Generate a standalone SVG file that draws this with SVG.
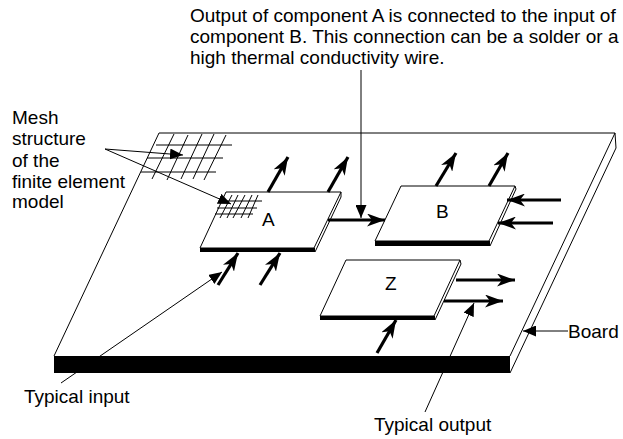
<svg xmlns="http://www.w3.org/2000/svg" width="623" height="439" viewBox="0 0 623 439">
<defs>
<marker id="bar" viewBox="0 0 18 13" refX="18" refY="6.5" markerWidth="18" markerHeight="13" markerUnits="userSpaceOnUse" orient="auto"><path d="M0 0L18 6.5L0 13L5 6.5Z" fill="#000"/></marker>
<marker id="thin" viewBox="0 0 13 11" refX="13" refY="5.5" markerWidth="13" markerHeight="11" markerUnits="userSpaceOnUse" orient="auto"><path d="M0 0L13 5.5L0 11Z" fill="#000"/></marker>
</defs>
<style>
text{font-family:"Liberation Sans",Arial,sans-serif;font-size:19px;fill:#000}
.l{fill:none;stroke:#000;stroke-width:1}
.t{fill:none;stroke:#000;stroke-width:3.2;marker-end:url(#bar)}
.a{fill:none;stroke:#000;stroke-width:1;marker-end:url(#thin)}
.m{fill:none;stroke:#000;stroke-width:1}
.c{fill:#fff;stroke:#000;stroke-width:1}
</style>
<rect width="623" height="439" fill="#fff"/>
<g id="board">
<path class="l" d="M54 356L159 133H615L510 356M510 373L616 148L615 133"/>
<rect x="54" y="356" width="456" height="17" fill="#000"/>
</g>
<g id="mesh-board">
<path class="m" d="M156 145H232M147 158H223M141 172H216M174 134L152 179M188 135L167 180M202 134L181 179M214 134L193 179M226 135L204 180"/>
</g>
<g id="component-a">
<path class="c" d="M226 192H341L314 248H200Z"/>
<path class="l" d="M341 192V197L315 252"/>
<rect x="200" y="248" width="115" height="4" fill="#000"/>
<path class="m" d="M220 201H262M217 208H257M215 214H253M232 195L220 218M238 195L227 218M245 195L233 218M252 195L241 218M258 195L248 218"/>
<text x="262" y="226">A</text>
</g>
<g id="component-b">
<path class="c" d="M401 186H515L489 241H375Z"/>
<path class="l" d="M515 186L516 189L490 246"/>
<rect x="375" y="241" width="115" height="5" fill="#000"/>
<text x="436" y="218">B</text>
</g>
<g id="component-z">
<path class="c" d="M346 260H460L434 316H320Z"/>
<path class="l" d="M460 260L461 264L435 320"/>
<rect x="320" y="316" width="115" height="4" fill="#000"/>
<text x="385" y="290">Z</text>
</g>
<g id="connectors">
<path class="t" d="M268 192L288 157"/>
<path class="t" d="M328 192L348 157"/>
<path class="t" d="M436 186L456 153"/>
<path class="t" d="M489 186L508 153"/>
<path class="t" d="M328 220H385"/>
<path class="t" d="M561 200H507"/>
<path class="t" d="M553 223H498"/>
<path class="t" d="M456 280H515"/>
<path class="t" d="M444 301H503"/>
<path class="t" d="M218 285L238 253"/>
<path class="t" d="M260 285L280 253"/>
<path class="t" d="M377 353L396 320"/>
<path class="a" d="M361 70V218"/>
<path class="a" d="M105 149L183 155"/>
<path class="a" d="M105 149L231 204"/>
<path class="a" d="M61 383L222 272"/>
<path class="a" d="M425 412L474 303"/>
<path class="a" d="M568 331H523"/>
</g>
<g id="labels">
<text x="190" y="22">Output of component A is connected to the input of</text>
<text x="190" y="43">component B. This connection can be a solder or a</text>
<text x="190" y="64">high thermal conductivity wire.</text>
<text x="12" y="124">Mesh</text>
<text x="12" y="145">structure</text>
<text x="12" y="167">of the</text>
<text x="12" y="188">finite element</text>
<text x="12" y="208">model</text>
<text x="24" y="403">Typical input</text>
<text x="374" y="431">Typical output</text>
<text x="568" y="338">Board</text>
</g>
</svg>
